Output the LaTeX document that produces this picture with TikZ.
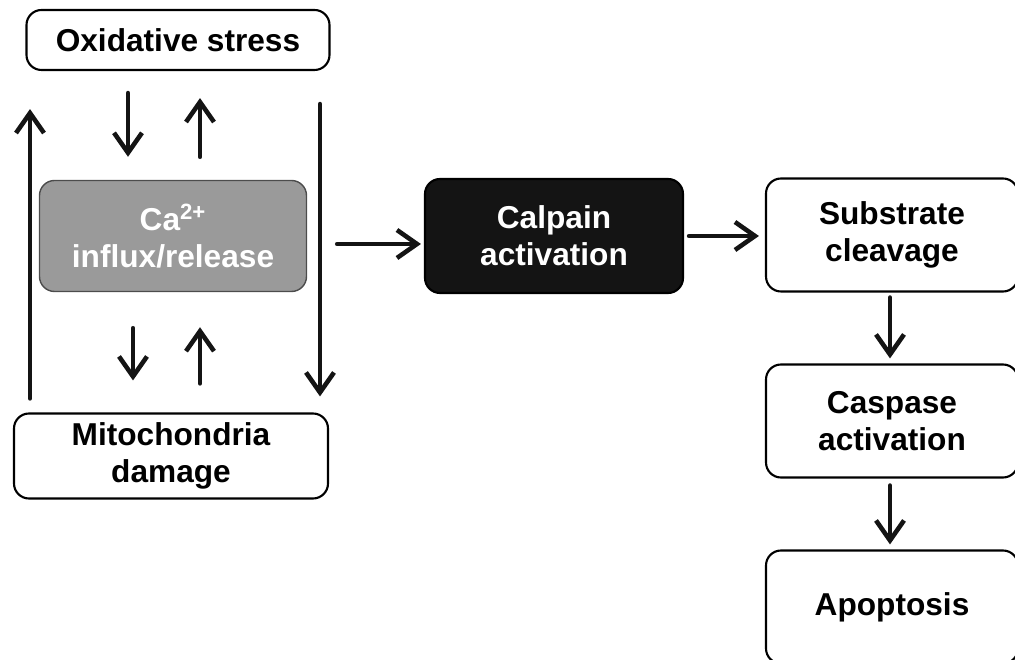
\documentclass[tikz,border=0pt]{standalone}
\usepackage{fontspec}
\setmainfont{Liberation Sans}
\usetikzlibrary{arrows.meta}
\definecolor{cagray}{HTML}{9A9A9A}
\definecolor{calpblack}{HTML}{141414}
\begin{document}
\begin{tikzpicture}[>={Straight Barb[length=4mm,width=5.6mm]},line cap=round,line join=round,
box/.style={draw,line width=1.2pt,rounded corners=0.3cm,align=center,font=\fontsize{18}{21}\selectfont\bfseries,text=black},
arr/.style={->,line width=2.6pt,draw=calpblack}]
\useasboundingbox (0,0) rectangle (20.3,13.2);
\path(3.56,12.4)node[box,minimum width=6.06cm,minimum height=1.2cm](ox){Oxidative stress}
(3.46,8.48)node[box,fill=cagray,draw=black!70,line width=0.8pt,text=white,minimum width=5.34cm,minimum height=2.22cm](ca){Ca\textsuperscript{2+}\\influx/release}
(3.42,4.08)node[box,minimum width=6.28cm,minimum height=1.7cm](mito){Mitochondria\\damage}
(11.08,8.48)node[box,fill=calpblack,text=white,minimum width=5.16cm,minimum height=2.28cm](calp){Calpain\\activation}
++(6.76,0.02)node[box,minimum width=5.04cm,minimum height=2.26cm](sub){Substrate\\cleavage}
++(0,-3.72)node[box,minimum width=5.04cm,minimum height=2.26cm](casp){Caspase\\activation}
++(0,-3.72)node[box,minimum width=5.04cm,minimum height=2.26cm](apo){Apoptosis}
;
% loop round the calcium box
\draw[arr,shorten <=0.44cm,shorten >=0.46cm](ox.south -| 2.56,0)--(ca.north -| 2.56,0);
\draw[arr,shorten <=0.46cm,shorten >=0.54cm](ca.north -| 4,0)--(ox.south -| 4,0);
\draw[arr,shorten <=0.72cm,shorten >=0.64cm](ca.south -| 2.66,0)--(mito.north -| 2.66,0);
\draw[arr,shorten <=0.58cm,shorten >=0.7cm](mito.north -| 4,0)--(ca.south -| 4,0);
\draw[arr,shorten <=0.28cm,shorten >=0.76cm](mito.north -| 0.6,0)--(ox.south -| 0.6,0);
\draw[arr,shorten <=0.66cm,shorten >=0.32cm](ox.south -| 6.4,0)--(mito.north -| 6.4,0);
% main chain
\draw[arr,shorten <=0.6cm,shorten >=0.06cm]([yshift=-0.16cm]ca.east)--([yshift=-0.16cm]calp.west);
\draw[arr,shorten <=0.1cm,shorten >=0.12cm](calp.east)--(calp.east -| sub.west);
\draw[arr,shorten <=0.1cm,shorten >=0.1cm](sub.south -| 17.8,0)--(casp.north -| 17.8,0);
\draw[arr,shorten <=0.14cm,shorten >=0.1cm](casp.south -| 17.8,0)--(apo.north -| 17.8,0);
\end{tikzpicture}
\end{document}
